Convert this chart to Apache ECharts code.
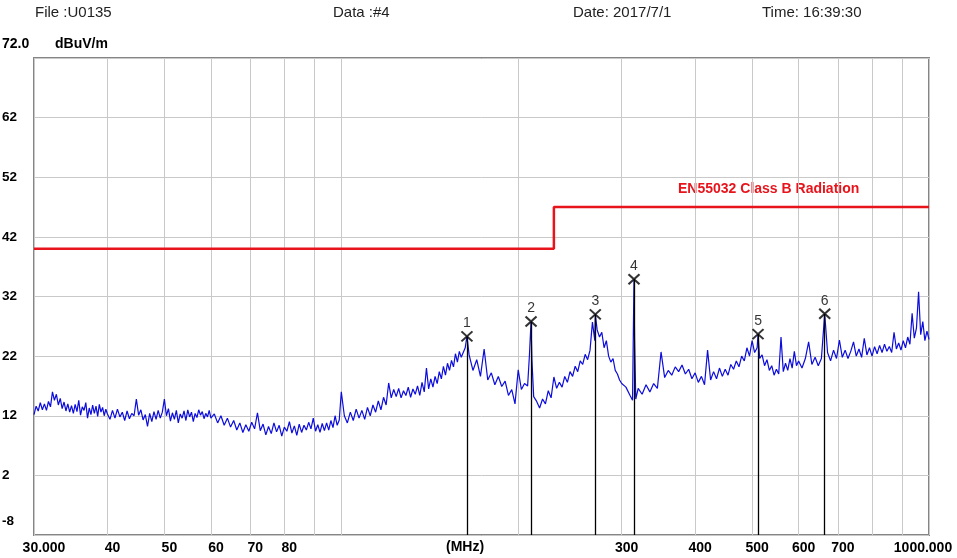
<!DOCTYPE html>
<html><head><meta charset="utf-8">
<script src="https://cdn.jsdelivr.net/npm/echarts@6/dist/echarts.min.js"></script>
<style>html,body{margin:0;padding:0;background:#fff}#c{width:957px;height:558px}</style>
</head><body><div id="c"></div>
<script>
// Frequencies (MHz) of the measured trace
const traceFreq = [
30,30.25,30.5,30.75,31,31.25,31.5,31.75,32,32.25,32.5,32.75,33,33.25,33.5,33.75,34,34.25,34.5,34.75,35,35.25,35.5,35.75,36,36.25,36.5,36.75,37,37.25,37.5,37.75,38,38.25,38.5,38.75,39,39.25,39.5,39.75,40,
40.4,40.8,41.2,41.6,42,42.4,42.8,43.2,43.6,44, 44.4,44.8,45.2,45.6,46,46.4,46.8,47.2,47.6,48, 48.4,48.8,49.2,49.6,50,50.4,50.8,51.2,51.6,52, 52.4,52.8,53.2,53.6,54,54.4,54.8,55.2,55.6,56, 56.4,56.8,57.2,57.6,58,58.4,58.8,59.2,59.6,60,
60.8,61.6,62.4,63.2,64,64.8,65.6,66.4,67.2,68, 68.8,69.6,70.4,71.2,72,72.8,73.6,74.4,75.2,76, 76.8,77.6,78.4,79.2,80,80.8,81.6,82.4,83.2,84, 84.8,85.6,86.4,87.2,88,88.8,89.6,90.4,91.2,92, 92.8,93.6,94.4,95.2,96,96.8,97.6,98.4,99.2,100,
101.2,102.4,103.6,104.8,106,107.2,108.4,109.6,110.8,112, 113.2,114.4,115.6,116.8,118,119.2,120.4,121.6,122.8,124, 125.2,126.4,127.6,128.8,130,131.2,132.4,133.6,134.8,136, 137.2,138.4,139.6,140.8,142,143.2,144.4,145.6,146.8,148, 149.2,150.4,151.6,152.8,154,155.2,156.4,157.6,158.8,160,
162.5,163.6,165,167.5,170,172.5,175,177.5,180,182.5, 185,187.5,190,192.5,195,197.5,200,202.5,205,207.5, 209,210.3,211,212.5,215,217.5,220,222.5,225,227.5, 230,232.5,235,237.5,240,242.5,245,247.5,250,252.5, 255,257.5,260,262.5,265,267.5,270,270.5,272.5,275, 277.5,280,282.5,285,287.5,290,292.5,295,297.5,300,
305,310,313,314,314.8,315.5,317,320,325,330, 335,340,345,350,355,360,365,370,375,380, 385,390,395,400,405,410,415,420,425,430, 435,440,445,450,455,460,465,470,475,480, 485,490,495,500,505,510,511.8,515,520,525, 530,535,540,545,550,555,560,565,570,575, 580,585,590,595,600,
608,616,624,632,640,648,656,664.6,672,680, 688,696,704,712,720,728,736,744,752,760, 768,776,784,792,800,808,816,824,832,840, 848,856,864,872,880,888,896,904,912,920, 928,936,944,952,960,968,976,984,992,1000
];
const traceLevel = [
12.2,13.6,12.8,14.2,13.0,14.0,12.9,14.4,13.5,16.0,14.6,15.6,13.8,14.9,13.2,14.3,12.8,14.0,12.6,13.7,12.4,13.9,12.7,14.6,12.1,13.5,12.9,14.2,11.6,13.3,12.2,13.8,12.4,13.6,11.9,13.9,12.6,13.4,12.0,13.1,12.3,
11.4,12.9,11.6,13.1,11.8,12.6,11.2,12.8,11.5,12.4, 12.0,14.8,12.1,13.0,11.3,12.2,10.2,12.4,11.0,12.7, 11.4,12.9,11.6,12.6,14.8,12.0,13.2,11.1,12.5,11.4, 12.9,10.8,12.3,11.6,12.8,11.2,13.0,11.8,12.6,11.0, 12.4,11.7,13.0,12.1,12.7,11.5,12.4,11.8,12.9,11.6,
12.3,10.8,12.0,10.4,11.6,10.1,11.2,9.6,10.8,9.2, 10.5,9.4,10.9,9.8,12.5,9.5,10.6,8.8,10.2,9.0, 10.8,9.3,10.4,8.6,10.1,9.4,11.0,9.1,10.3,8.7, 10.6,9.2,10.4,9.6,10.9,9.8,11.6,9.4,10.5,9.2, 10.7,9.5,10.8,9.6,11.2,10.0,12.0,10.4,11.3,16.0,
12.0,10.8,12.6,11.2,13.1,11.6,12.9,11.4,13.4,12.0, 13.8,12.6,14.5,13.0,15.1,13.8,17.5,15.0,16.4,15.2, 16.6,15.0,16.2,15.4,16.8,15.1,16.5,15.6,17.0,15.4, 17.6,16.0,20.0,16.5,18.2,16.8,18.6,17.4,19.4,18.2, 20.3,18.8,20.8,19.6,21.3,20.2,22.4,21.0,22.8,21.8,
23.4,25.3,22.2,19.6,21.4,18.6,23.2,18.0,19.2,17.2, 18.6,16.9,17.8,15.4,16.4,14.0,19.7,16.4,17.4,17.0, 22.2,27.8,21.5,15.2,14.4,13.3,14.8,14.0,16.2,15.0, 18.5,16.6,17.6,16.8,18.6,17.6,19.4,18.6,20.3,19.4, 21.2,20.6,22.3,21.4,23.0,27.7,24.6,29.0,26.4,25.2, 26.0,23.4,24.6,22.0,21.0,21.6,19.6,19.0,18.0,17.4,
16.8,15.4,14.6,26.0,34.9,25.0,14.8,16.6,15.6,17.2, 16.0,17.4,16.6,22.7,18.4,19.6,18.8,20.2,19.4,20.5, 19.0,19.8,18.2,19.2,17.6,18.6,17.2,23.0,18.0,19.4, 18.2,20.0,18.6,19.8,18.8,20.6,19.8,21.2,20.2,22.0, 21.2,23.4,22.0,24.6,22.6,23.4,25.7,21.6,22.2,20.4, 21.4,19.6,20.4,18.8,19.8,19.0,25.2,19.4,20.8,19.6, 21.6,20.0,22.8,20.4,21.2,
20.0,21.6,24.4,20.6,21.8,20.4,21.6,29.1,22.6,21.2, 23.0,21.6,24.7,21.8,23.0,21.6,22.8,24.4,22.0,23.2, 21.8,25.0,22.2,23.4,22.0,23.6,22.4,23.8,22.6,24.0, 22.8,23.6,22.6,26.0,23.2,24.2,23.0,24.6,23.4,25.2, 24.0,29.2,25.0,26.7,32.8,25.6,27.8,24.6,26.2,24.8
];
// EN55032 Class B limit
const limitFreq = [30, 230, 230, 1000];
const limitLevel = [40, 40, 47, 47];
const limitName = 'EN55032 Class B Radiation';
// Markers
const markerNo = ['1', '2', '3', '4', '5', '6'];
const markerFreq = [163.6, 210.3, 270.5, 314.8, 511.8, 664.6];
const markerLevel = [25.3, 27.8, 29.0, 34.9, 25.7, 29.1];
// Axes
const xGridValues = [30,40,50,60,70,80,90,100,200,300,400,500,600,700,800,900,1000];
const xLabelValues = [30,40,50,60,70,80,300,400,500,600,700,1000];
const yMin = -8, yMax = 72, yStep = 10;
// Header
const headerTexts = ['File :U0135', 'Data :#4', 'Date: 2017/7/1', 'Time: 16:39:30'];

const FONT = 'Arial, "Liberation Sans", sans-serif';
const chart = echarts.init(document.getElementById('c'), null, {renderer: 'canvas'});
const headerLeft = [35, 333, 573, 762];
const xl = {fontFamily: FONT, fontWeight: 'bold', fontSize: 14, color: '#000'};

chart.setOption({
  animation: false,
  backgroundColor: '#ffffff',
  grid: {left: 34, right: 28, top: 58, bottom: 23, show: true, containLabel: false, outerBoundsMode: 'none',
    borderColor: '#858585', borderWidth: 2, backgroundColor: 'transparent'},
  xAxis: {
    type: 'log', logBase: 10, min: 30, max: 1000,
    axisLine: {show: false},
    axisTick: {show: false, customValues: xGridValues},
    splitLine: {show: true, lineStyle: {color: '#c9c9c9', width: 1}},
    axisLabel: {
      customValues: xLabelValues, hideOverlap: false, showMinLabel: true, showMaxLabel: true,
      fontFamily: FONT, fontWeight: 'bold', fontSize: 14, color: '#000', margin: 6,
      formatter: v => (v === xLabelValues[0] ? '{a|30.000}' : v === 1000 ? '{b|1000.000}' : '{c|' + v + '}'),
      rich: {
        a: Object.assign({padding: [0, 0, 0, 20]}, xl),
        b: Object.assign({padding: [0, 12, 0, 0]}, xl),
        c: Object.assign({padding: [0, 0, 0, 10]}, xl)
      }
    }
  },
  yAxis: {
    type: 'value', min: yMin, max: yMax, interval: yStep,
    axisLine: {show: false}, axisTick: {show: false},
    splitLine: {lineStyle: {color: '#c9c9c9', width: 1}},
    axisLabel: {
      align: 'left', margin: 32, fontFamily: FONT, fontWeight: 'bold', fontSize: 13.5, color: '#000',
      formatter: v => (v === yMax ? '' : v === yMin ? '{lo|' + v + '}' : String(v)),
      rich: {lo: {fontFamily: FONT, fontWeight: 'bold', fontSize: 13.5, color: '#000', padding: [0, 0, 28, 0]}}
    }
  },
  series: [
    {
      type: 'line', name: 'trace', symbol: 'none', z: 2,
      data: traceFreq.map((f, i) => [f, traceLevel[i]]),
      lineStyle: {color: '#0c0cdc', width: 1.2}
    },
    {
      type: 'line', name: 'limit', symbol: 'none', z: 3,
      data: limitFreq.map((f, i) => [f, limitLevel[i]]),
      lineStyle: {color: '#e8141c', width: 2.5}
    },
    {
      type: 'scatter', name: 'markers', z: 5,
      symbol: 'path://M0,0L10,10M10,0L0,10', symbolSize: [11, 10],
      itemStyle: {color: 'transparent', borderColor: '#000', borderWidth: 2},
      data: markerFreq.map((f, i) => [f, markerLevel[i]]),
      label: {show: true, position: 'top', distance: 0, color: '#000', fontFamily: FONT, fontSize: 14,
        formatter: p => markerNo[p.dataIndex]},
      markLine: {
        silent: true, symbol: 'none', animation: false,
        lineStyle: {color: '#000', type: 'solid', width: 1.3},
        label: {show: false},
        data: markerFreq.map((f, i) => [{coord: [f, markerLevel[i]]}, {coord: [f, yMin]}])
      }
    }
  ],
  graphic: [
    ...headerTexts.map((t, i) => ({type: 'text', left: headerLeft[i], top: 5,
      style: {text: t, font: '15px ' + FONT, fill: '#222'}})),
    {type: 'text', left: 2, top: 37, style: {text: '72.0', font: 'bold 14px ' + FONT, fill: '#000'}},
    {type: 'text', left: 55, top: 37, style: {text: 'dBuV/m', font: 'bold 14px ' + FONT, fill: '#000'}},
    {type: 'text', left: 446, top: 540, style: {text: '(MHz)', font: 'bold 14px ' + FONT, fill: '#000'}},
    {type: 'text', left: 678, top: 182, style: {text: limitName, font: 'bold 14px ' + FONT, fill: '#e8141c'}}
  ]
});
</script>
</body></html>
